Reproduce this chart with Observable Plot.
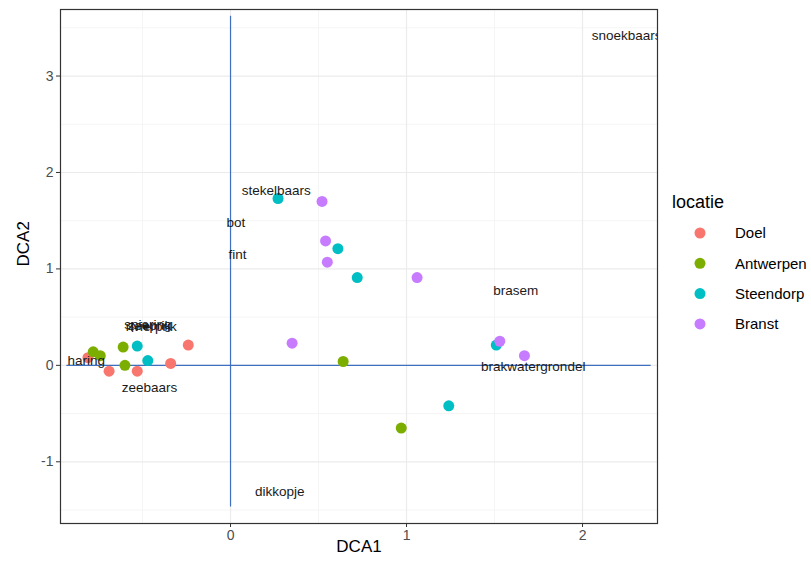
<!DOCTYPE html>
<html><head><meta charset="utf-8">
<script src="https://cdn.jsdelivr.net/npm/d3@7"></script>
<script src="https://cdn.jsdelivr.net/npm/@observablehq/plot@0.6"></script>
<style>
body{margin:0;background:#fff;font-family:Arial,"Liberation Sans",sans-serif}
#wrap{position:relative;width:811px;height:564px;overflow:hidden}
#legend{position:absolute;left:0;top:0}
</style>
</head><body><div id="wrap"></div>
<script>
// --- data ---
const locaties = ["Doel", "Antwerpen", "Steendorp", "Branst"];
const kleuren = ["#F8766D", "#7CAE00", "#00BFC4", "#C77CFF"];

const doelDCA1 = [-0.24, -0.34, -0.53, -0.69, -0.81];
const doelDCA2 = [0.21, 0.02, -0.06, -0.06, 0.08];
const antwerpenDCA1 = [-0.78, -0.74, -0.61, -0.60, 0.64, 0.97];
const antwerpenDCA2 = [0.14, 0.10, 0.19, 0.00, 0.04, -0.65];
const steendorpDCA1 = [-0.53, -0.47, 0.27, 0.61, 0.72, 1.24, 1.51];
const steendorpDCA2 = [0.20, 0.05, 1.73, 1.21, 0.91, -0.42, 0.21];
const branstDCA1 = [0.52, 0.54, 0.55, 1.06, 0.35, 1.53, 1.67];
const branstDCA2 = [1.70, 1.29, 1.07, 0.91, 0.23, 0.25, 0.10];

const soorten = ["snoekbaars", "stekelbaars", "bot", "fint", "brasem", "brakwatergrondel", "dikkopje", "zeebaars", "haring", "spiering", "zeeprik", "rivierprik"];
const soortDCA1 = [2.25, 0.26, 0.03, 0.04, 1.62, 1.72, 0.28, -0.46, -0.82, -0.47, -0.46, -0.45];
const soortDCA2 = [3.42, 1.81, 1.48, 1.15, 0.77, -0.01, -1.31, -0.23, 0.05, 0.42, 0.41, 0.40];

const xTicks = [0, 1, 2];
const yTicks = [-1, 0, 1, 2, 3];
const xMinor = [-0.5, 0.5, 1.5];
const yMinor = [-1.5, -0.5, 0.5, 1.5, 2.5, 3.5];
const xDomain = [-0.966, 2.426];
const yDomain = [-1.64, 3.69];
const hLijnX = [-0.93, 2.39];
const vLijnY = [-1.47, 3.62];

// --- build table ---
const punten = [];
[[doelDCA1, doelDCA2], [antwerpenDCA1, antwerpenDCA2], [steendorpDCA1, steendorpDCA2], [branstDCA1, branstDCA2]]
  .forEach(([xs, ys], i) => xs.forEach((x, j) => punten.push({DCA1: x, DCA2: ys[j], locatie: locaties[i]})));
const labels = soorten.map((s, i) => ({soort: s, DCA1: soortDCA1[i], DCA2: soortDCA2[i]}));

const fmt = d => String(d);
const chart = Plot.plot({
  width: 811, height: 564,
  marginLeft: 60, marginRight: 154, marginTop: 9, marginBottom: 41,
  style: {background: "white", fontFamily: "Arial, 'Liberation Sans', sans-serif"},
  x: {domain: xDomain},
  y: {domain: yDomain},
  color: {domain: locaties, range: kleuren},
  marks: [
    Plot.gridX(xMinor, {stroke: "#f2f2f2", strokeOpacity: 1, strokeWidth: 0.8}),
    Plot.gridY(yMinor, {stroke: "#f2f2f2", strokeOpacity: 1, strokeWidth: 0.8}),
    Plot.gridX(xTicks, {stroke: "#ebebeb", strokeOpacity: 1, strokeWidth: 1.2}),
    Plot.gridY(yTicks, {stroke: "#ebebeb", strokeOpacity: 1, strokeWidth: 1.2}),
    Plot.ruleY([0], {x1: hLijnX[0], x2: hLijnX[1], stroke: "#3F6FBF", strokeWidth: 1.2}),
    Plot.ruleX([0], {y1: vLijnY[0], y2: vLijnY[1], stroke: "#3F6FBF", strokeWidth: 1.2}),
    Plot.dot(punten, {x: "DCA1", y: "DCA2", fill: "locatie", r: 5.5}),
    Plot.text(labels, {x: "DCA1", y: "DCA2", text: "soort", fontSize: 13.5, fill: "#1a1a1a", clip: true}),
    Plot.frame({stroke: "#333", strokeWidth: 1.2}),
    Plot.axisX(xTicks, {tickSize: 4, tickPadding: 3, fontSize: 14, tickFormat: fmt, label: null, stroke: "#333", fill: "#4d4d4d"}),
    Plot.axisY(yTicks, {tickSize: 4, tickPadding: 3, fontSize: 14, tickFormat: fmt, label: null, stroke: "#333", fill: "#4d4d4d"}),
    Plot.text(["DCA1"], {frameAnchor: "bottom", dy: 28, fontSize: 17, fill: "black"}),
    Plot.text(["DCA2"], {frameAnchor: "left", dx: -37, rotate: -90, fontSize: 17, fill: "black"})
  ]
});
document.getElementById("wrap").appendChild(chart);

// --- legend ---
const leg = d3.select("#wrap").append("svg").attr("id", "legend").attr("width", 811).attr("height", 564);
leg.append("text").attr("x", 672).attr("y", 202).attr("dy", "0.35em").attr("font-size", 18).text("locatie");
locaties.forEach((l, i) => {
  const y = 233 + i * 30.3;
  leg.append("circle").attr("cx", 700).attr("cy", y).attr("r", 5.5).attr("fill", kleuren[i]);
  leg.append("text").attr("x", 735).attr("y", y).attr("dy", "0.35em").attr("font-size", 15).text(l);
});
</script>
</body></html>
